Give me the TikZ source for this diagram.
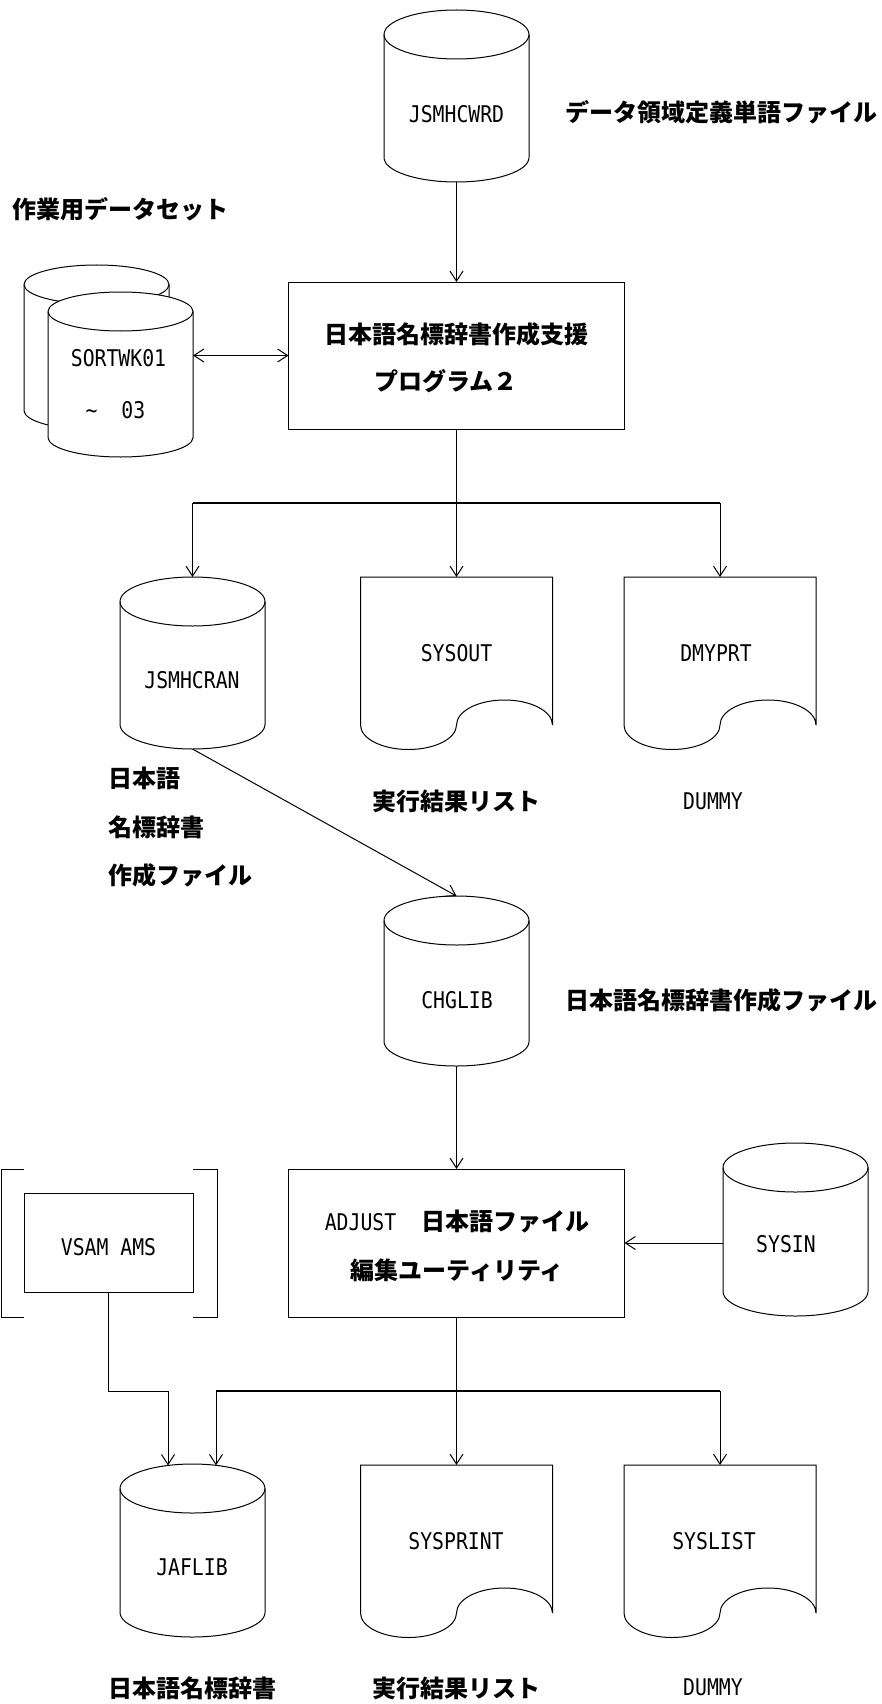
\documentclass[tikz,border=0pt]{standalone}
\usepackage{fontspec}
\newfontfamily\jpf{Noto Sans CJK JP}
\newfontfamily\enf{DejaVu Sans Mono}[FakeStretch=0.86]
\usetikzlibrary{arrows.meta}
\tikzset{
  shp/.style={draw, line width=1pt, fill=white},
  lnk/.style={line width=1pt},
  hl/.style={line width=1.4pt},
  arr/.style={line width=1pt, -{Straight Barb[length=10pt,width=13pt]}},
  dbl/.style={line width=1pt, {Straight Barb[length=10pt,width=13pt]}-{Straight Barb[length=10pt,width=13pt]}},
  jp/.style={font=\jpf\bfseries\fontsize{24pt}{28pt}\selectfont, inner sep=0pt},
  en/.style={font=\enf\fontsize{23pt}{27pt}\selectfont, inner sep=0pt},
  anchorbox/.style={inner sep=0pt, outer sep=0pt, draw=none},
  procbox/.style={draw, line width=1pt, fill=white, inner sep=0pt, outer sep=0pt},
}
% #1 name, #2 cx, #3 top, #4 bottom, #5 ry
\newcommand\drawcyl[5]{%
  \draw[shp] ({#2-72.5},{#3+#5}) -- ({#2-72.5},{#4-#5})
    arc[start angle=180,end angle=360,x radius=72.5pt,y radius=#5pt]
    -- ({#2+72.5},{#3+#5})
    arc[start angle=0,end angle=180,x radius=72.5pt,y radius=#5pt] -- cycle;
  \draw[lnk] ({#2-72.5},{#3+#5}) arc[start angle=180,end angle=360,x radius=72.5pt,y radius=#5pt];
  \node[anchorbox, minimum width=145pt, minimum height={(#4-#3)*1pt}] (#1) at (#2,{(#3+#4)/2}) {};
}
% #1 name, #2 left, #3 top
\newcommand\drawdoc[3]{%
  \draw[shp] (#2,#3) -- ({#2+192},#3) -- ({#2+192},{#3+148})
    arc[start angle=0,end angle=180,x radius=48pt,y radius=25pt]
    arc[start angle=0,end angle=-180,x radius=48pt,y radius=24.5pt] -- cycle;
  \node[anchorbox, minimum width=192pt, minimum height=148pt, anchor=north west] (#1) at (#2,#3) {};
}
\begin{document}
\begin{tikzpicture}[x=1pt,y=-1pt]
\fill[white] (0,0) rectangle (881,1704);
\useasboundingbox (0,0) rectangle (881,1704);

% ---------- top part ----------
\drawcyl{w}{456.5}{10}{182}{24.5}
\node[en] (wt) at (456.5,114.5) {JSMHCWRD};
\node[jp, anchor=west] (wl) at (565,112) {データ領域定義単語ファイル};

\node[jp, anchor=west] (sl0) at (12,209) {作業用データセット};
\drawcyl{sb}{96.5}{265}{430}{19.5}
\drawcyl{sf}{120.5}{292}{457}{19.5}
\node[en] (st1) at (118.5,358) {SORTWK01};
\node[en] (st2) at (115.5,410) {\textasciitilde\ \ 03};

\node[procbox, minimum width=336pt, minimum height=147pt] (b1) at (456.5,355.5) {};
\node[jp] (b1t1) at (456.5,334) {日本語名標辞書作成支援};
\node[jp, anchor=west] (b1t2) at (374,381) {プログラム２};

\draw[arr] (w.south) -- (b1.north);
\draw[dbl] (b1.west -| sf.east) -- (b1.west);

% ---------- outputs of program 2 ----------
\drawcyl{jr}{192.5}{577}{749}{24.5}
\node[en] (jrt) at (192,680) {JSMHCRAN};
\drawdoc{so}{360.5}{577}
\node[en] (sot) at (456.5,653) {SYSOUT};
\drawdoc{dm}{624}{577}
\node[en] (dmt) at (716,653) {DMYPRT};

\coordinate (j1) at (456.5,503);
\draw[lnk] (b1.south) -- (j1);
\draw[hl] (jr.north |- j1) -- (dm.north |- j1);
\draw[arr] (jr.north |- j1) -- (jr.north);
\draw[arr] (j1) -- (so.north);
\draw[arr] (dm.north |- j1) -- (dm.north);

\node[jp, anchor=west] (l1) at (108,778) {日本語};
\node[jp, anchor=west] (l2) at (108,827) {名標辞書};
\node[jp, anchor=west] (l3) at (108,875) {作成ファイル};
\node[jp, anchor=west] (l4) at (372,801) {実行結果リスト};
\node[en] (l5) at (713,801) {DUMMY};

% ---------- CHGLIB ----------
\drawcyl{chg}{456.5}{896}{1066}{24.5}
\node[en] (chgt) at (457,1000) {CHGLIB};
\node[jp, anchor=west] (chgl) at (565,1000) {日本語名標辞書作成ファイル};
\draw[arr] (jr.south) -- (chg.north);

% ---------- ADJUST ----------
\node[procbox, minimum width=336pt, minimum height=148pt] (b2) at (456.5,1243) {};
\node[en] (b2a) at (360.5,1222) {ADJUST};
\node[jp, anchor=west] (b2b) at (421,1222) {日本語ファイル};
\node[jp] (b2c) at (457,1270) {編集ユーティリティ};
\draw[arr] (chg.south) -- (b2.north);

\drawcyl{si}{795.5}{1143}{1316}{24.5}
\node[en] (sit) at (786,1244) {SYSIN};
\draw[arr] (b2.east -| si.west) -- (b2.east);

% VSAM AMS with brackets
\draw[lnk] (24,1169) -- (1,1169) -- (1,1317) -- (24,1317);
\draw[lnk] (193,1169) -- (217,1169) -- (217,1317) -- (193,1317);
\node[procbox, minimum width=169pt, minimum height=99pt] (vs) at (108.5,1242.5) {};
\node[en] (vst) at (108.5,1247) {VSAM AMS};

% ---------- outputs of ADJUST ----------
\drawcyl{jf}{192.5}{1464}{1637}{24.5}
\node[en] (jft) at (192,1567) {JAFLIB};
\drawdoc{sp}{360.5}{1465}
\node[en] (spt) at (456,1541.5) {SYSPRINT};
\drawdoc{sl}{624}{1465}
\node[en] (slt) at (714,1541.5) {SYSLIST};

\coordinate (v2) at (168,1391);
\coordinate (jfa) at (168,1465.4);
\draw[arr] (vs.south) |- (v2) -- (jfa);

\coordinate (j2) at (456.5,1391);
\coordinate (jfb) at (216,1465.3);
\draw[lnk] (b2.south) -- (j2);
\draw[hl] (jfb |- j2) -- (sl.north |- j2);
\draw[arr] (jfb |- j2) -- (jfb);
\draw[arr] (j2) -- (sp.north);
\draw[arr] (sl.north |- j2) -- (sl.north);

\node[jp, anchor=west] (m1) at (108,1688) {日本語名標辞書};
\node[jp, anchor=west] (m2) at (372,1688) {実行結果リスト};
\node[en] (m3) at (713,1687) {DUMMY};
\end{tikzpicture}
\end{document}
